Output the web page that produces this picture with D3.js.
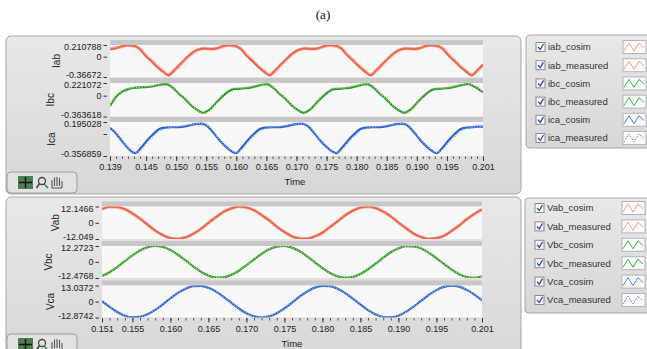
<!DOCTYPE html>
<html>
<head>
<meta charset="utf-8">
<script src="https://cdn.jsdelivr.net/npm/d3@7"></script>
<style>
body { margin: 0; background: #fff; }
svg { display: block; font-family: "Liberation Sans", Arial, sans-serif; }
</style>
</head>
<body>
<svg id="chart" width="647" height="349"></svg>
<script>
// ---------- data ----------

// top graph: line currents, [time, value]
const iabCosim = [[0.1390,0.13],[0.1400,0.15],[0.1410,0.19],[0.1420,0.205],[0.1430,0.2],[0.1439,0.14],[0.1449,0.015],[0.1459,-0.085],[0.1469,-0.19],[0.1479,-0.28],
  [0.1487,-0.34],[0.1497,-0.24],[0.1507,-0.13],[0.1517,-0.02],[0.1527,0.075],[0.1537,0.13],[0.1547,0.145],[0.1557,0.135],[0.1567,0.15],[0.1577,0.19],[0.1587,0.205],[0.1597,0.2],[0.1607,0.14],[0.1617,0.015],[0.1627,-0.085],[0.1637,-0.19],[0.1647,-0.28],
  [0.1655,-0.34],[0.1665,-0.24],[0.1675,-0.13],[0.1685,-0.02],[0.1695,0.075],[0.1705,0.13],[0.1715,0.145],[0.1725,0.135],[0.1735,0.15],[0.1745,0.19],[0.1755,0.205],[0.1765,0.2],[0.1775,0.14],[0.1785,0.015],[0.1795,-0.085],[0.1805,-0.19],[0.1815,-0.28],
  [0.1823,-0.34],[0.1833,-0.24],[0.1843,-0.13],[0.1853,-0.02],[0.1863,0.075],[0.1873,0.13],[0.1883,0.145],[0.1893,0.135],[0.1903,0.15],[0.1913,0.19],[0.1923,0.205],[0.1933,0.2],[0.1943,0.14],[0.1953,0.015],[0.1963,-0.085],[0.1973,-0.19],[0.1983,-0.28],
  [0.1991,-0.34],[0.2001,-0.24],[0.2010,-0.14]];
const iabMeasured = [[0.1390,0.14],[0.1400,0.16],[0.1410,0.18],[0.1420,0.21],[0.1430,0.19],[0.1439,0.15],[0.1449,0.03],[0.1459,-0.07],[0.1469,-0.18],[0.1479,-0.27],
  [0.1487,-0.33],[0.1497,-0.25],[0.1507,-0.14],[0.1517,-0.03],[0.1527,0.065],[0.1537,0.125],[0.1547,0.15],[0.1557,0.14],[0.1567,0.145],[0.1577,0.18],[0.1587,0.21],[0.1597,0.19],[0.1607,0.15],[0.1617,0.03],[0.1627,-0.07],[0.1637,-0.18],[0.1647,-0.27],
  [0.1655,-0.33],[0.1665,-0.25],[0.1675,-0.14],[0.1685,-0.03],[0.1695,0.065],[0.1705,0.125],[0.1715,0.15],[0.1725,0.14],[0.1735,0.145],[0.1745,0.18],[0.1755,0.21],[0.1765,0.19],[0.1775,0.15],[0.1785,0.03],[0.1795,-0.07],[0.1805,-0.18],[0.1815,-0.27],
  [0.1823,-0.33],[0.1833,-0.25],[0.1843,-0.14],[0.1853,-0.03],[0.1863,0.065],[0.1873,0.125],[0.1883,0.15],[0.1893,0.14],[0.1903,0.145],[0.1913,0.18],[0.1923,0.21],[0.1933,0.19],[0.1943,0.15],[0.1953,0.03],[0.1963,-0.07],[0.1973,-0.18],[0.1983,-0.27],
  [0.1991,-0.33],[0.2001,-0.25],[0.2010,-0.15]];

const ibcCosim = [[0.1390,-0.18],[0.1400,-0.02],[0.1410,0.07],[0.1420,0.115],[0.1430,0.135],[0.1440,0.145],[0.1450,0.15],[0.1460,0.16],[0.1470,0.185],[0.1484,0.2],
  [0.1495,0.13],[0.1505,0.03],[0.1515,-0.06],[0.1525,-0.17],[0.1535,-0.25],[0.1545,-0.3],[0.1555,-0.25],[0.1565,-0.14],[0.1575,-0.03],[0.1585,0.06],[0.1595,0.115],[0.1605,0.12],[0.1615,0.13],[0.1625,0.145],[0.1635,0.17],[0.1645,0.195],[0.1651,0.2],
  [0.1662,0.13],[0.1672,0.03],[0.1682,-0.06],[0.1692,-0.17],[0.1702,-0.25],[0.1712,-0.3],[0.1722,-0.25],[0.1732,-0.14],[0.1742,-0.03],[0.1752,0.06],[0.1762,0.115],[0.1772,0.12],[0.1782,0.13],[0.1792,0.145],[0.1802,0.17],[0.1812,0.195],[0.1818,0.2],
  [0.1829,0.13],[0.1839,0.03],[0.1849,-0.06],[0.1859,-0.17],[0.1869,-0.25],[0.1879,-0.3],[0.1889,-0.25],[0.1899,-0.14],[0.1909,-0.03],[0.1919,0.06],[0.1929,0.115],[0.1939,0.12],[0.1949,0.13],[0.1959,0.145],[0.1969,0.17],[0.1979,0.195],[0.1985,0.205],
  [0.1997,0.15],[0.2010,0.06]];
const ibcMeasured = [[0.1390,-0.17],[0.1400,0.0],[0.1410,0.08],[0.1420,0.125],[0.1430,0.14],[0.1440,0.15],[0.1450,0.16],[0.1460,0.17],[0.1470,0.19],[0.1484,0.21],
  [0.1495,0.14],[0.1505,0.04],[0.1515,-0.05],[0.1525,-0.16],[0.1535,-0.26],[0.1545,-0.31],[0.1555,-0.27],[0.1565,-0.15],[0.1575,-0.01],[0.1585,0.08],[0.1595,0.13],[0.1605,0.13],[0.1615,0.14],[0.1625,0.16],[0.1635,0.18],[0.1645,0.2],[0.1651,0.21],
  [0.1662,0.14],[0.1672,0.04],[0.1682,-0.05],[0.1692,-0.16],[0.1702,-0.26],[0.1712,-0.31],[0.1722,-0.27],[0.1732,-0.15],[0.1742,-0.01],[0.1752,0.08],[0.1762,0.13],[0.1772,0.13],[0.1782,0.14],[0.1792,0.16],[0.1802,0.18],[0.1812,0.2],[0.1818,0.21],
  [0.1829,0.14],[0.1839,0.04],[0.1849,-0.05],[0.1859,-0.16],[0.1869,-0.26],[0.1879,-0.31],[0.1889,-0.27],[0.1899,-0.15],[0.1909,-0.01],[0.1919,0.08],[0.1929,0.13],[0.1939,0.13],[0.1949,0.14],[0.1959,0.16],[0.1969,0.18],[0.1979,0.2],[0.1985,0.21],
  [0.1997,0.16],[0.2010,0.07]];

const icaCosim = [[0.1390,0.1],[0.1397,0.04],[0.1404,-0.04],[0.1415,-0.175],[0.1424,-0.27],
  [0.1432,-0.31],[0.1442,-0.22],[0.1452,-0.1],[0.1462,0.0],[0.1472,0.08],[0.1482,0.105],[0.1492,0.11],[0.1502,0.11],[0.1512,0.12],[0.1522,0.14],[0.1532,0.16],[0.1542,0.17],[0.1552,0.13],[0.1562,0.02],[0.1572,-0.1],[0.1582,-0.2],[0.1592,-0.28],
  [0.1599,-0.31],[0.1609,-0.22],[0.1619,-0.1],[0.1629,0.0],[0.1639,0.08],[0.1649,0.105],[0.1659,0.11],[0.1669,0.11],[0.1679,0.12],[0.1689,0.14],[0.1699,0.16],[0.1709,0.17],[0.1719,0.13],[0.1729,0.02],[0.1739,-0.1],[0.1749,-0.2],[0.1759,-0.28],
  [0.1766,-0.31],[0.1776,-0.22],[0.1786,-0.1],[0.1796,0.0],[0.1806,0.08],[0.1816,0.105],[0.1826,0.11],[0.1836,0.11],[0.1846,0.12],[0.1856,0.14],[0.1866,0.16],[0.1876,0.17],[0.1886,0.13],[0.1896,0.02],[0.1906,-0.1],[0.1916,-0.2],[0.1926,-0.28],
  [0.1933,-0.31],[0.1943,-0.22],[0.1953,-0.1],[0.1963,0.0],[0.1973,0.08],[0.1983,0.105],[0.1993,0.11],[0.2003,0.12],[0.2010,0.12]];
const icaMeasured = [[0.1390,0.11],[0.1397,0.05],[0.1404,-0.03],[0.1415,-0.165],[0.1424,-0.26],
  [0.1432,-0.3],[0.1442,-0.25],[0.1452,-0.14],[0.1462,-0.04],[0.1472,0.05],[0.1482,0.09],[0.1492,0.11],[0.1502,0.12],[0.1512,0.13],[0.1522,0.15],[0.1532,0.16],[0.1542,0.17],[0.1552,0.14],[0.1562,0.03],[0.1572,-0.09],[0.1582,-0.19],[0.1592,-0.27],
  [0.1599,-0.3],[0.1609,-0.25],[0.1619,-0.14],[0.1629,-0.04],[0.1639,0.05],[0.1649,0.09],[0.1659,0.11],[0.1669,0.12],[0.1679,0.13],[0.1689,0.15],[0.1699,0.16],[0.1709,0.17],[0.1719,0.14],[0.1729,0.03],[0.1739,-0.09],[0.1749,-0.19],[0.1759,-0.27],
  [0.1766,-0.3],[0.1776,-0.25],[0.1786,-0.14],[0.1796,-0.04],[0.1806,0.05],[0.1816,0.09],[0.1826,0.11],[0.1836,0.12],[0.1846,0.13],[0.1856,0.15],[0.1866,0.16],[0.1876,0.17],[0.1886,0.14],[0.1896,0.03],[0.1906,-0.09],[0.1916,-0.19],[0.1926,-0.27],
  [0.1933,-0.3],[0.1943,-0.25],[0.1953,-0.14],[0.1963,-0.04],[0.1973,0.05],[0.1983,0.09],[0.1993,0.11],[0.2003,0.12],[0.2010,0.13]];

// bottom graph: line voltages, one value per sample time
const botTime = [0.151,0.152,0.153,0.154,0.155,0.156,0.157,0.158,0.159,0.160,0.161,0.162,0.163,0.164,0.165,0.166,0.167,0.168,0.169,0.170,
  0.171,0.172,0.173,0.174,0.175,0.176,0.177,0.178,0.179,0.180,0.181,0.182,0.183,0.184,0.185,0.186,0.187,0.188,0.189,0.190,
  0.191,0.192,0.193,0.194,0.195,0.196,0.197,0.198,0.199,0.200,0.201];
const vabCosim = [10.1,11.8,11.8,10.1,7.1,3.0,-1.5,-5.7,-9.2,-11.4,-12.0,-10.9,-8.3,-4.5,-0.1,4.3,8.1,10.8,12.0,11.5,
  9.3,5.9,1.7,-2.8,-6.9,-10.0,-11.7,-11.8,-10.2,-7.3,-3.2,1.2,5.5,9.1,11.3,12.0,11.0,8.4,4.7,0.3,
  -4.1,-8.0,-10.7,-11.9,-11.5,-9.5,-6.1,-1.9,2.6,6.7,9.9];
const vabMeasured = [10.3,11.9,11.6,10.2,6.9,3.2,-1.3,-5.9,-9.0,-11.5,-11.9,-11.0,-8.1,-4.7,0.1,4.1,8.3,10.6,12.1,11.4,
  9.5,5.7,1.9,-3.0,-6.7,-10.1,-11.6,-11.9,-10.0,-7.5,-3.0,1.0,5.7,8.9,11.4,11.9,11.1,8.2,4.9,0.1,
  -3.9,-8.2,-10.6,-12.0,-11.4,-9.7,-5.9,-2.1,2.8,6.5,10.0];
const vbcCosim = [-10.9,-8.0,-4.0,0.5,5.0,8.8,11.3,12.3,11.6,9.2,5.5,1.1,-3.5,-7.6,-10.6,-12.2,-12.0,-10.2,-6.9,-2.7,
  1.9,6.2,9.7,11.8,12.3,11.0,8.2,4.3,-0.3,-4.8,-8.6,-11.2,-12.3,-11.6,-9.3,-5.7,-1.4,3.2,7.4,10.5,
  12.1,12.0,10.3,7.1,2.9,-1.6,-6.0,-9.5,-11.7,-12.3,-11.1];
const vbcMeasured = [-10.7,-8.2,-3.8,0.3,5.2,8.6,11.4,12.2,11.7,9.0,5.7,0.9,-3.3,-7.8,-10.5,-12.3,-11.9,-10.4,-6.7,-2.9,
  2.1,6.0,9.9,11.7,12.2,11.1,8.0,4.5,-0.5,-4.6,-8.8,-11.1,-12.4,-11.5,-9.5,-5.5,-1.6,3.4,7.2,10.7,
  12.0,12.1,10.1,7.3,2.7,-1.4,-6.2,-9.3,-11.8,-12.2,-11.3];
const vcaCosim = [0.5,-4.2,-8.4,-11.4,-12.8,-12.4,-10.3,-6.7,-2.2,2.6,7.1,10.5,12.5,12.8,11.2,8.1,3.9,-0.9,-5.6,-9.5,
  -12.0,-12.9,-12.0,-9.4,-5.5,-0.8,4.0,8.2,11.3,12.8,12.5,10.4,6.9,2.5,-2.4,-6.9,-10.4,-12.5,-12.8,-11.4,
  -8.3,-4.1,0.7,5.4,9.3,11.9,12.9,12.1,9.5,5.7,1.0];
const vcaMeasured = [0.8,-4.0,-8.6,-11.2,-12.9,-12.3,-10.5,-6.5,-2.4,2.8,6.9,10.7,12.4,12.9,11.0,8.3,3.7,-0.7,-5.8,-9.3,
  -12.1,-12.8,-12.1,-9.2,-5.7,-0.6,3.8,8.4,11.1,12.9,12.4,10.6,6.7,2.7,-2.6,-6.7,-10.6,-12.4,-12.9,-11.2,
  -8.5,-3.9,0.9,5.2,9.5,11.8,13.0,12.0,9.7,5.5,1.2];

// axis ticks and labels
const topXTicks = [0.139,0.145,0.150,0.155,0.160,0.165,0.170,0.175,0.180,0.185,0.190,0.195,0.201];
const topXLabels = ["0.139","0.145","0.150","0.155","0.160","0.165","0.170","0.175","0.180","0.185","0.190","0.195","0.201"];
const botXTicks = [0.151,0.155,0.160,0.165,0.170,0.175,0.180,0.185,0.190,0.195,0.201];
const botXLabels = ["0.151","0.155","0.160","0.165","0.170","0.175","0.180","0.185","0.190","0.195","0.201"];

const iabTicks = [-0.36672, 0, 0.210788],   iabTickLabels = ["-0.36672", "0", "0.210788"];
const ibcTicks = [-0.363618, 0, 0.221072],  ibcTickLabels = ["-0.363618", "0", "0.221072"];
const icaTicks = [-0.356859, 0, 0.195028],  icaTickLabels = ["-0.356859", "", "0.195028"];
const vabTicks = [-12.049, 0, 12.1466],     vabTickLabels = ["-12.049", "0", "12.1466"];
const vbcTicks = [-12.4768, 0, 12.2723],    vbcTickLabels = ["-12.4768", "0", "12.2723"];
const vcaTicks = [-12.8742, 0, 13.0372],    vcaTickLabels = ["-12.8742", "0", "13.0372"];

const topLegend = ["iab_cosim", "iab_measured", "ibc_cosim", "ibc_measured", "ica_cosim", "ica_measured"];
const botLegend = ["Vab_cosim", "Vab_measured", "Vbc_cosim", "Vbc_measured", "Vca_cosim", "Vca_measured"];

// ---------- drawing ----------
const pal = {
    red:   {line: "#ee5b3f", meas: "#f6a391", icon: "#f6a08e"},
    green: {line: "#229a3c", meas: "#c6d44c", icon: "#3cae52"},
    blue:  {line: "#2b63cf", meas: "#8db3f2", icon: "#4a82e0"}
};

const svg = d3.select("#chart");
const defs = svg.append("defs");
const grad = defs.append("linearGradient").attr("id", "panelFill")
    .attr("x1", 0).attr("y1", 0).attr("x2", 0).attr("y2", 1);
grad.append("stop").attr("offset", "0%").attr("stop-color", "#e8e8e8");
grad.append("stop").attr("offset", "100%").attr("stop-color", "#d7d7d7");

svg.append("text").attr("x", 323).attr("y", 19).attr("text-anchor", "middle")
    .style("font-family", "'Liberation Serif', 'Times New Roman', serif").style("font-size", "13px")
    .attr("fill", "#111").text("(a)");

function zip(times, vals) {
    return times.map((t, i) => [t, vals[i]]);
}

function drawToolbar(g, x, y) {
    g.append("rect").attr("x", x).attr("y", y).attr("width", 70).attr("height", 21).attr("rx", 4)
        .attr("fill", "#e2e2e2").attr("stroke", "#9c9c9c");
    // cursor button
    g.append("rect").attr("x", x + 11).attr("y", y + 4).attr("width", 15).attr("height", 13).attr("fill", "#4f7d52");
    g.append("path").attr("d", `M${x + 18.5},${y + 5}V${y + 16}M${x + 12},${y + 10.5}H${x + 25}`)
        .attr("stroke", "#111").attr("stroke-width", 1.4);
    // zoom button
    g.append("circle").attr("cx", x + 35).attr("cy", y + 9).attr("r", 3.5).attr("fill", "none").attr("stroke", "#444").attr("stroke-width", 1.3);
    g.append("path").attr("d", `M${x + 32.5},${y + 11.5}L${x + 29.5},${y + 16}`).attr("stroke", "#444").attr("stroke-width", 1.6);
    g.append("path").attr("d", `M${x + 37},${y + 12}L${x + 41},${y + 16}`).attr("stroke", "#2a7a3a").attr("stroke-width", 1.2);
    // pan button
    g.append("path").attr("d", `M${x + 45},${y + 16}V${y + 8}M${x + 47.5},${y + 14}V${y + 5.5}M${x + 50},${y + 14}V${y + 5}M${x + 52.5},${y + 14}V${y + 6}M${x + 55},${y + 16}V${y + 9}M${x + 45},${y + 16}H${x + 55}`)
        .attr("stroke", "#555").attr("stroke-width", 1.1).attr("fill", "none");
}

function drawPanel(cfg) {
    const g = svg.append("g");
    g.append("rect").attr("x", cfg.frame[0]).attr("y", cfg.frame[1])
        .attr("width", cfg.frame[2]).attr("height", cfg.frame[3]).attr("rx", 5)
        .attr("fill", "url(#panelFill)").attr("stroke", "#a6a6a6");

    const x = d3.scaleLinear().domain(cfg.xDomain).range([cfg.left, cfg.right]);
    const w = cfg.right - cfg.left;

    cfg.rows.forEach((r, i) => {
        g.append("rect").attr("x", cfg.left).attr("y", r.top - 5).attr("width", w).attr("height", 5)
            .attr("fill", "#c7c7c7");
        g.append("rect").attr("x", cfg.left).attr("y", r.top).attr("width", w).attr("height", r.bottom - r.top)
            .attr("fill", "#f8f8f8");

        const y = d3.scaleLinear().domain([r.ticks[0], r.ticks[2]]).range([r.bottom, r.top]);
        const clipId = "clip-" + cfg.id + "-" + i;
        defs.append("clipPath").attr("id", clipId).append("rect")
            .attr("x", cfg.left).attr("y", r.top).attr("width", w).attr("height", r.bottom - r.top);

        const line = d3.line().x(d => x(d[0])).y(d => y(d[1])).curve(d3.curveMonotoneX);
        const c = pal[r.color];
        const plot = g.append("g").attr("clip-path", "url(#" + clipId + ")");
        if (r.color === "red") {
            plot.append("path").attr("d", line(r.measured)).attr("fill", "none")
                .attr("stroke", c.meas).attr("stroke-width", 3.2).attr("opacity", 0.9);
            plot.append("path").attr("d", line(r.cosim)).attr("fill", "none")
                .attr("stroke", c.line).attr("stroke-width", 1.8).attr("opacity", 0.9);
        } else {
            plot.append("path").attr("d", line(r.cosim)).attr("fill", "none")
                .attr("stroke", c.line).attr("stroke-width", 2.2);
            plot.append("path").attr("d", line(r.measured)).attr("fill", "none")
                .attr("stroke", c.meas).attr("stroke-width", 1.3).attr("stroke-dasharray", "1.2,1.6");
        }

        const ax = g.append("g").attr("transform", `translate(${cfg.left - 3},0)`)
            .call(d3.axisLeft(y).tickValues(r.ticks).tickSize(3.5).tickPadding(2)
                .tickFormat((d, k) => r.tickLabels[k]));
        ax.select(".domain").remove();
        ax.selectAll("line").attr("stroke", "#333");
        ax.selectAll("text").attr("fill", "#222").style("font-size", "9px");
        // nudge the end labels inward so stacked plots don't collide
        ax.selectAll(".tick text").attr("y", (d, k) => k === 0 ? -2 : (k === 2 ? 2 : 0));

        g.append("text").attr("transform", `translate(${r.titleX},${(r.top + r.bottom) / 2}) rotate(-90)`)
            .attr("text-anchor", "middle").attr("dy", "0.35em")
            .style("font-size", "10px").attr("fill", "#222").text(r.name);
    });

    const bottom = cfg.rows[cfg.rows.length - 1].bottom;
    const minor = d3.range(Math.round(cfg.xDomain[0] * 1000), Math.round(cfg.xDomain[1] * 1000) + 1).map(d => d / 1000);
    const axMinor = g.append("g").attr("transform", `translate(0,${bottom + 0.5})`)
        .call(d3.axisBottom(x).tickValues(minor).tickSize(2.5).tickFormat(""));
    axMinor.select(".domain").remove();
    axMinor.selectAll("line").attr("stroke", "#555");
    const axMajor = g.append("g").attr("transform", `translate(0,${bottom + 0.5})`)
        .call(d3.axisBottom(x).tickValues(cfg.xTicks).tickSize(4.5).tickPadding(3)
            .tickFormat((d, k) => cfg.xLabels[k]));
    axMajor.select(".domain").remove();
    axMajor.selectAll("line").attr("stroke", "#333");
    axMajor.selectAll("text").attr("fill", "#222").style("font-size", "9px");

    g.append("text").attr("x", cfg.timeX).attr("y", cfg.timeY).attr("text-anchor", "middle")
        .style("font-size", "9.5px").attr("fill", "#222").text("Time");

    drawToolbar(g, cfg.toolbar[0], cfg.toolbar[1]);
}

function drawLegend(box, labels, rowY, rowStep) {
    const g = svg.append("g");
    g.append("rect").attr("x", box[0]).attr("y", box[1]).attr("width", box[2]).attr("height", box[3]).attr("rx", 4)
        .attr("fill", "url(#panelFill)").attr("stroke", "#a6a6a6");
    const colors = ["red", "red", "green", "green", "blue", "blue"];
    const ix = d3.scaleLinear().domain([0, 4]).range([box[0] + 98, box[0] + 118]);
    const iy = d3.scaleLinear().domain([0, 1]).range([4, -4]);
    const zig = [[0, 0], [1, 1], [2, 0], [3, 1], [4, 0.4]];
    labels.forEach((lab, i) => {
        const cy = rowY + i * rowStep;
        g.append("rect").attr("x", box[0] + 10).attr("y", cy - 4.5).attr("width", 9).attr("height", 9)
            .attr("fill", "#fafafa").attr("stroke", "#8a8a8a");
        g.append("path").attr("d", `M${box[0] + 12},${cy}L${box[0] + 14.3},${cy + 2.5}L${box[0] + 17.5},${cy - 3}`)
            .attr("fill", "none").attr("stroke", "#2d4fa8").attr("stroke-width", 1.3);
        g.append("text").attr("x", box[0] + 22).attr("y", cy).attr("dy", "0.35em")
            .style("font-size", "9.5px").attr("fill", "#333").text(lab);
        g.append("rect").attr("x", box[0] + 97).attr("y", cy - 6.5).attr("width", 23).attr("height", 13)
            .attr("fill", "#fbfbfb").attr("stroke", "#b4b4b4");
        const l = d3.line().x(d => ix(d[0])).y(d => cy + iy(d[1]));
        const p = g.append("path").attr("d", l(zig)).attr("fill", "none")
            .attr("stroke", pal[colors[i]].icon).attr("stroke-width", 1);
        if (i === 5) p.attr("stroke-dasharray", "1.5,1.5");
    });
}

drawPanel({
    id: "top", frame: [6, 36, 515, 158], xDomain: [0.139, 0.201], left: 110, right: 483,
    xTicks: topXTicks, xLabels: topXLabels, timeX: 295, timeY: 185, toolbar: [7, 172],
    rows: [
        {name: "Iab", top: 45, bottom: 77, ticks: iabTicks, tickLabels: iabTickLabels, cosim: iabCosim, measured: iabMeasured, color: "red", titleX: 56},
        {name: "Ibc", top: 83, bottom: 116.5, ticks: ibcTicks, tickLabels: ibcTickLabels, cosim: ibcCosim, measured: ibcMeasured, color: "green", titleX: 50},
        {name: "Ica", top: 122, bottom: 156, ticks: icaTicks, tickLabels: icaTickLabels, cosim: icaCosim, measured: icaMeasured, color: "blue", titleX: 51}
    ]
});

drawPanel({
    id: "bot", frame: [6, 197, 515, 170], xDomain: [0.151, 0.201], left: 102, right: 482,
    xTicks: botXTicks, xLabels: botXLabels, timeX: 292, timeY: 347, toolbar: [7, 334],
    rows: [
        {name: "Vab", top: 206.5, bottom: 239, ticks: vabTicks, tickLabels: vabTickLabels, cosim: zip(botTime, vabCosim), measured: zip(botTime, vabMeasured), color: "red", titleX: 55},
        {name: "Vbc", top: 246, bottom: 278, ticks: vbcTicks, tickLabels: vbcTickLabels, cosim: zip(botTime, vbcCosim), measured: zip(botTime, vbcMeasured), color: "green", titleX: 48},
        {name: "Vca", top: 285.5, bottom: 317.5, ticks: vcaTicks, tickLabels: vcaTickLabels, cosim: zip(botTime, vcaCosim), measured: zip(botTime, vcaMeasured), color: "blue", titleX: 50}
    ]
});

drawLegend([526, 35, 125, 113], topLegend, 47, 18.2);
drawLegend([525, 198, 126, 115], botLegend, 208, 18.4);
</script>
</body>
</html>
